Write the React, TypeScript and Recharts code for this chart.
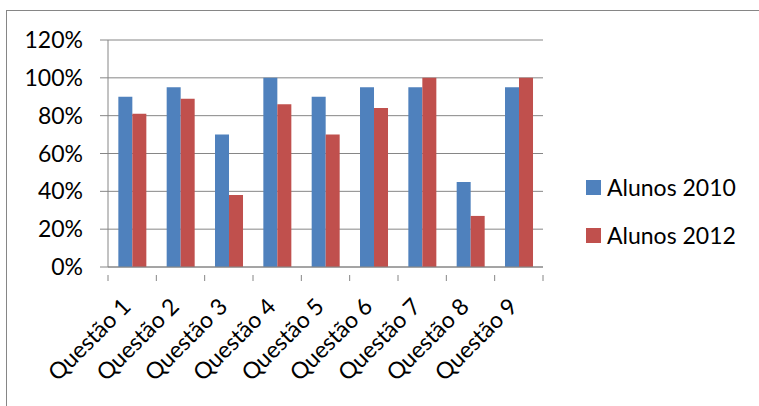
import { BarChart, Bar, XAxis, YAxis, CartesianGrid } from "recharts";

const questions = ["Questão 1", "Questão 2", "Questão 3", "Questão 4", "Questão 5", "Questão 6", "Questão 7", "Questão 8", "Questão 9"];
const alunos2010 = [90, 95, 70, 100, 90, 95, 95, 45, 95];
const alunos2012 = [81, 89, 38, 86, 70, 84, 100, 27, 100];
const yTicks = [0, 20, 40, 60, 80, 100, 120];

const data = questions.map((q, i) => ({ name: q, a2010: alunos2010[i], a2012: alunos2012[i] }));

const W = 759;
const H = 406;
const M = { top: 40, right: 216, bottom: 0, left: 8 };
const Y_W = 100;
const plotW = W - M.left - M.right - Y_W;
const band = plotW / questions.length;
const grey = "#868686";
const font = "Lato, 'Open Sans', sans-serif";
const fs = 23;

function XTick(props: any) {
  const { x, y, payload, index } = props;
  const tx = x;
  const ty = y + 33;
  return (
    <g>
      <line x1={x - band / 2} y1={y} x2={x - band / 2} y2={y + 6} stroke={grey} />
      {index === questions.length - 1 && (
        <line x1={x + band / 2} y1={y} x2={x + band / 2} y2={y + 6} stroke={grey} />
      )}
      <text
        x={tx}
        y={ty}
        textAnchor="end"
        transform={`rotate(-45, ${tx}, ${ty})`}
        fontSize={fs}
        fontFamily={font}
        fill="#000"
      >
        {payload.value}
      </text>
    </g>
  );
}

const legendItems = [
  { label: "Alunos 2010", color: "#4F81BD" },
  { label: "Alunos 2012", color: "#C0504D" },
];

export default function App() {
  return (
    <div style={{ position: "absolute", left: 0, top: 0, width: W, height: H, overflow: "hidden", background: "#fff" }}>
      <div style={{ position: "absolute", left: 6, top: 10, width: 900, height: 600, border: `1px solid ${grey}` }} />
      <div style={{ position: "absolute", left: 0, top: 0 }}>
        <BarChart width={W} height={H} data={data} margin={M} barGap={0} barCategoryGap="21.4%">
          <CartesianGrid vertical={false} stroke={grey} />
          <XAxis
            dataKey="name"
            height={H - 267 - M.bottom}
            stroke={grey}
            tickLine={false}
            tick={<XTick />}
            interval={0}
          />
          <YAxis
            width={Y_W}
            domain={[0, 120]}
            ticks={yTicks}
            tickFormatter={(v) => `${v}%`}
            stroke={grey}
            tickSize={8}
            tickMargin={17}
            tick={{ fill: "#000", fontSize: fs, fontFamily: font }}
            interval={0}
          />
          <Bar dataKey="a2010" name="Alunos 2010" fill="#4F81BD" isAnimationActive={false} />
          <Bar dataKey="a2012" name="Alunos 2012" fill="#C0504D" isAnimationActive={false} />
        </BarChart>
      </div>
      <div style={{ position: "absolute", left: 586, top: 163, fontFamily: font, fontSize: fs }}>
        {legendItems.map((it) => (
          <div key={it.label} style={{ display: "flex", alignItems: "center", height: 48 }}>
            <span style={{ width: 15, height: 15, background: it.color, marginRight: 6 }} />
            <span>{it.label}</span>
          </div>
        ))}
      </div>
    </div>
  );
}
